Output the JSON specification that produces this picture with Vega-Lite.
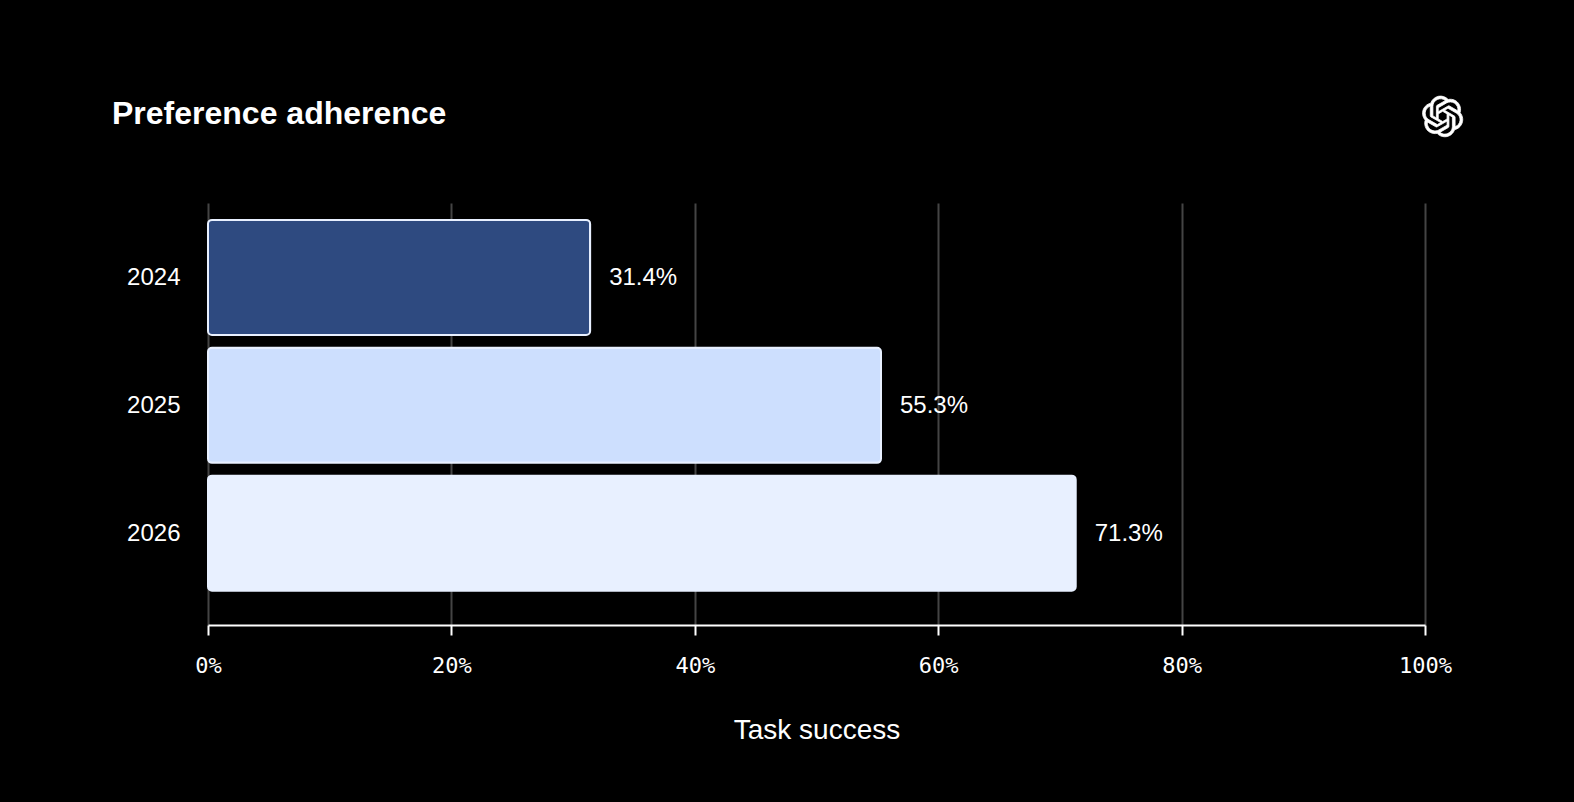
{
  "$schema": "https://vega.github.io/schema/vega-lite/v6.json",
  "width": 1217,
  "height": 422,
  "autosize": "none",
  "padding": {"left": 208, "top": 203, "right": 149, "bottom": 177},
  "background": "#000000",
  "title": {
    "text": "Preference adherence",
    "anchor": "start",
    "frame": "group",
    "dx": -96,
    "offset": -37,
    "font": "Liberation Sans",
    "fontSize": 32,
    "fontWeight": "bold",
    "color": "#ffffff"
  },
  "config": {"view": {"stroke": null}},
  "data": {
    "values": [
      {"Year": "2024", "Success": 31.4, "Label": "31.4%"},
      {"Year": "2025", "Success": 55.3, "Label": "55.3%"},
      {"Year": "2026", "Success": 71.3, "Label": "71.3%"}
    ]
  },
  "encoding": {
    "y": {
      "field": "Year",
      "type": "nominal",
      "sort": null,
      "scale": {"paddingInner": 0.1, "paddingOuter": 0.2, "align": 0.33},
      "axis": {
        "title": null,
        "domain": false,
        "ticks": false,
        "grid": false,
        "labelPadding": 28,
        "labelOffset": 1,
        "labelFont": "Liberation Sans",
        "labelFontSize": 24,
        "labelColor": "#ffffff"
      }
    },
    "x": {
      "field": "Success",
      "type": "quantitative",
      "scale": {"domain": [0, 100], "nice": false},
      "axis": {
        "title": "Task success",
        "titleFont": "Liberation Sans",
        "titleFontSize": 28,
        "titleFontWeight": "normal",
        "titleColor": "#ffffff",
        "titlePadding": 40,
        "values": [0, 20, 40, 60, 80, 100],
        "labelExpr": "datum.value + '%'",
        "labelFont": "DejaVu Sans Mono",
        "labelFontSize": 22,
        "labelColor": "#ffffff",
        "labelPadding": 20,
        "labelFlush": false,
        "domainColor": "#ffffff",
        "domainWidth": 2,
        "tickColor": "#ffffff",
        "tickWidth": 2,
        "tickSize": 10,
        "grid": true,
        "gridColor": "#444444",
        "gridWidth": 2
      }
    }
  },
  "layer": [
    {
      "mark": {
        "type": "bar",
        "cornerRadius": 4,
        "stroke": "#e8f0ff",
        "strokeWidth": 2
      },
      "encoding": {
        "color": {
          "field": "Year",
          "type": "nominal",
          "legend": null,
          "scale": {
            "domain": ["2024", "2025", "2026"],
            "range": ["#2e4a80", "#cddffe", "#e8f0ff"]
          }
        }
      }
    },
    {
      "mark": {
        "type": "text",
        "align": "left",
        "baseline": "middle",
        "dx": 19,
        "dy": 1,
        "font": "Liberation Sans",
        "fontSize": 24,
        "color": "#ffffff"
      },
      "encoding": {
        "text": {"field": "Label", "type": "nominal"}
      }
    },
    {
      "data": {"values": [{"Year": "2024", "Success": 101.45}]},
      "mark": {
        "type": "point",
        "filled": true,
        "color": "#ffffff",
        "stroke": "#ffffff",
        "strokeWidth": 0.8,
        "opacity": 1,
        "size": 11.5,
        "yOffset": -161,
        "clip": false,
        "shape": "M10.2819 -2.1789a5.9847 5.9847 0 0 0-.5157-4.9108 6.0462 6.0462 0 0 0-6.5098-2.9A6.0651 6.0651 0 0 0 -7.0193 -7.8182a5.9847 5.9847 0 0 0-3.9977 2.9 6.0462 6.0462 0 0 0 .7427 7.0966 5.98 5.98 0 0 0 .511 4.9107 6.051 6.051 0 0 0 6.5146 2.9001A5.9847 5.9847 0 0 0 1.2599 12a6.0557 6.0557 0 0 0 5.7718-4.2058 5.9894 5.9894 0 0 0 3.9977-2.9001 6.0557 6.0557 0 0 0-.7475-7.0729zM1.2599 10.4292a4.4755 4.4755 0 0 1-2.8764-1.0408l.1419-.0804 4.7783-2.7582a.7948.7948 0 0 0 .3927-.6813v-6.7369l2.02 1.1686a.071.071 0 0 1 .038.052v5.5826a4.504 4.504 0 0 1-4.4945 4.4944zM-8.4008 6.3038a4.4708 4.4708 0 0 1-.5346-3.0137l.142.0852 4.783 2.7582a.7712.7712 0 0 0 .7806 0l5.8428-3.3685v2.3324a.0804.0804 0 0 1-.0332.0615L-2.26 7.9502a4.4992 4.4992 0 0 1-6.1408-1.6464zM-9.6592 -4.1044a4.485 4.485 0 0 1 2.3655-1.9728V-.4a.7664.7664 0 0 0 .3879.6765l5.8144 3.3543-2.0201 1.1685a.0757.0757 0 0 1-.071 0l-4.8303-2.7865A4.504 4.504 0 0 1 -9.6592 -4.128zM6.9371 -.2486L1.1038 -3.636 3.1192 -4.8a.0757.0757 0 0 1 .071 0l4.8303 2.7913a4.4944 4.4944 0 0 1-.6765 8.1042v-5.6772a.79.79 0 0 0-.407-.667zM8.9478 -3.2717l-.142-.0852-4.7735-2.7818a.7759.7759 0 0 0-.7854 0L-2.591 -2.7703V-5.1026a.0662.0662 0 0 1 .0284-.0615l4.8303-2.7866a4.4992 4.4992 0 0 1 6.6802 4.66zM-3.6935 .863l-2.02-1.1638a.0804.0804 0 0 1-.038-.0567V-5.9258a4.4992 4.4992 0 0 1 7.3757-3.4537l-.142.0805L-3.296 -6.541a.7948.7948 0 0 0-.3927.6813zM-2.5959 -1.5024l2.602-1.4998 2.6069 1.4998v2.9994l-2.5974 1.4997-2.6067-1.4997Z"
      }
    }
  ]
}
